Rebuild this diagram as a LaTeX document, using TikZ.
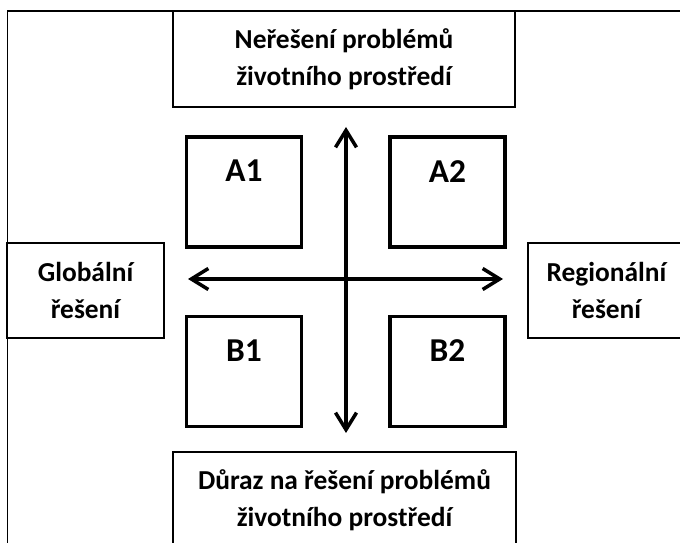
\documentclass[tikz,border=0pt]{standalone}
\usepackage{fontspec}
\setmainfont{Carlito}
\usepackage{tikz}
\usetikzlibrary{arrows.meta}
\tikzstyle{frame} = [draw, line width=1.1pt]
\tikzstyle{box} = [draw, line width=0.9pt, align=center, inner sep=0pt, font=\fontsize{15.6}{21}\selectfont\bfseries]
\tikzstyle{quad} = [draw, line width=2.2pt, inner sep=0pt, minimum width=2.3cm, minimum height=2.2cm]
\tikzstyle{quadlabel} = [inner sep=0pt, font=\fontsize{19}{22}\selectfont\bfseries]
\tikzstyle{axis} = [line width=2pt, {Straight Barb[length=3.4mm,width=4.2mm]}-{Straight Barb[length=3.4mm,width=4.2mm]}]

\begin{document}
\begin{tikzpicture}
\useasboundingbox (0,0) rectangle (13.6,10.86);
\draw [frame] (0.15,-0.5) -- (0.15,10.64) -- (14.2,10.64);
\node [box, minimum width=6.84cm, minimum height=1.92cm] (nereseni) at (6.88,9.68) {Neřešení problémů\\životního prostředí};
\node [box, minimum width=6.86cm, minimum height=1.92cm] (duraz) at (6.89,0.86) {Důraz na řešení problémů\\životního prostředí};
\node [box, minimum width=3.14cm, minimum height=1.9cm] (globalni) at (1.71,5.05) {Globální\\řešení};
\node [box, minimum width=3.14cm, minimum height=1.9cm] (regionalni) at (12.13,5.05) {Regionální\\řešení};
\node [quad] (a1) at (4.88,7.02) {};
\node [quad] (a2) at (8.95,7.02) {};
\node [quad] (b1) at (4.88,3.43) {};
\node [quad] (b2) at (8.95,3.43) {};
\node [quadlabel] at ([yshift=-0.72cm]a1.north) {A1};
\node [quadlabel] at ([yshift=-0.72cm]a2.north) {A2};
\node [quadlabel] at ([yshift=-0.72cm]b1.north) {B1};
\node [quadlabel] at ([yshift=-0.72cm]b2.north) {B2};
\coordinate (up) at (6.92,8.32);
\coordinate (down) at (6.92,2.2);
\coordinate (west) at (3.76,5.28);
\coordinate (east) at (10.06,5.28);
\draw [axis] (down) -- (up);
\draw [axis] (west) -- (east);
\end{tikzpicture}
\end{document}
